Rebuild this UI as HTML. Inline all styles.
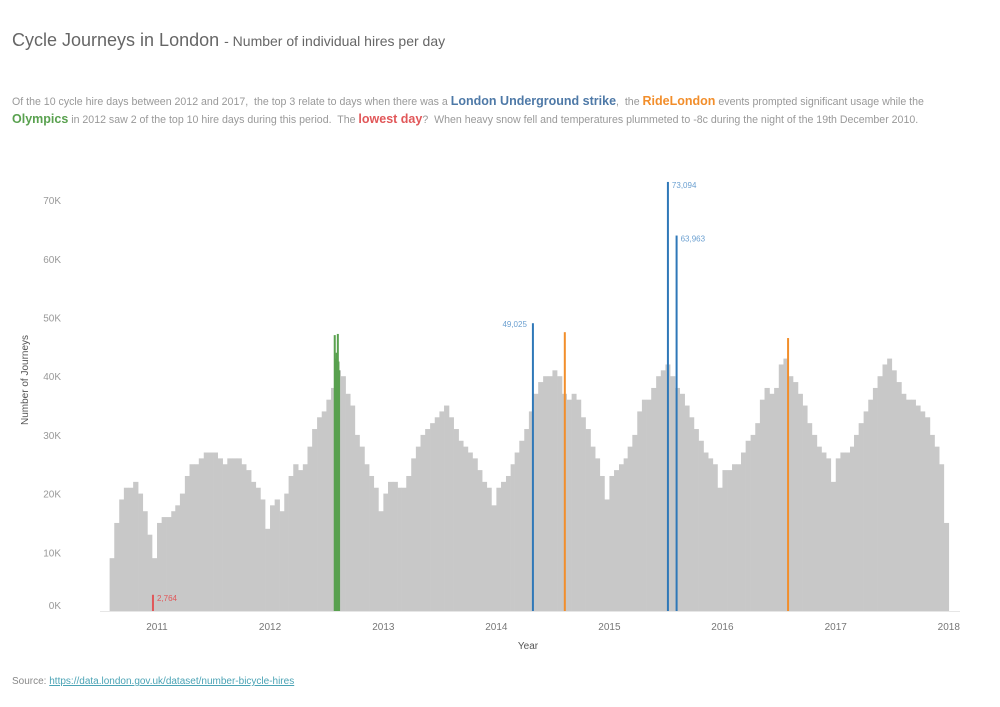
<!DOCTYPE html>
<html><head><meta charset="utf-8">
<style>
body{margin:0;background:#fff;width:1000px;height:707px;overflow:hidden;font-family:"Liberation Sans",sans-serif;position:relative}
.t{position:absolute;white-space:nowrap}
#title{left:12px;top:30px;font-size:18px;color:#666}
#title span{font-size:14px;color:#666}
.desc{left:12px;font-size:10.6px;color:#999}
#d1{top:94px}#d2{top:112px}
.blue{color:#4e79a7;font-size:12.5px;font-weight:bold}
.orange{color:#f28e2b;font-size:12.5px;font-weight:bold}
.green{color:#59a14f;font-size:12.5px;font-weight:bold}
.red{color:#e15759;font-size:12.5px;font-weight:bold}
#src{left:12px;top:676px;font-size:10px;color:#888}
#src a{color:#4aa3b5;text-decoration:underline}
svg{position:absolute;left:0;top:0}
</style></head><body>
<div class="t" id="title">Cycle Journeys in London <span>- Number of individual hires per day</span></div>
<div class="t desc" id="d1">Of the 10 cycle hire days between 2012 and 2017,&nbsp; the top 3 relate to days when there was a <span class="blue">London Underground strike</span>,&nbsp; the <span class="orange">RideLondon</span> events prompted significant usage while the</div>
<div class="t desc" id="d2"><span class="green">Olympics</span> in 2012 saw 2 of the top 10 hire days during this period.&nbsp; The <span class="red">lowest day</span>?&nbsp; When heavy snow fell and temperatures plummeted to -8c during the night of the 19th December 2010.</div>
<svg id="chart" width="1000" height="707"></svg>
<div class="t" id="src">Source: <a>https://data.london.gov.uk/dataset/number-bicycle-hires</a></div>
<script>
// half-monthly journey levels (thousands), starting Aug 2010
const halfMonthValues = [
 9,15,19,21,21,22,20,17,13,9,
 15,16,16,17,18,20,23,25,25,26,27,27,27,26,25,26,26,26,25,24,22,21,19,14,
 18,19,17,20,23,25,24,25,28,31,33,34,36,38,41,40,37,35,30,28,25,23,21,17,
 20,22,22,21,21,23,26,28,30,31,32,33,34,35,33,31,29,28,27,26,24,22,21,18,
 21,22,23,25,27,29,31,34,37,39,40,40,41,40,37,36,37,36,33,31,28,26,23,19,
 23,24,25,26,28,30,34,36,36,38,40,41,42,40,38,37,35,33,31,29,27,26,25,21,
 24,24,25,25,27,29,30,32,36,38,37,38,42,43,40,39,37,35,32,30,28,27,26,22,
 26,27,27,28,30,32,34,36,38,40,42,43,41,39,37,36,36,35,34,33,30,28,25,15
];
const highlightDates = ["2010-12-19","2012-07-28","2012-07-30","2012-08-01","2012-08-03","2012-08-05","2012-08-07","2012-08-09","2012-08-11","2014-04-29","2014-08-10","2015-07-09","2015-08-06","2016-07-31"];
const highlightValues = [2764,47000,43000,42000,44000,43500,47200,42500,41000,49025,47500,73094,63963,46500];
const highlightGroup = ["low","oly","oly","oly","oly","oly","oly","oly","oly","strike","ride","strike","strike","ride"];
const labelled = ["2010-12-19","2014-04-29","2015-07-09","2015-08-06"];
const yTicks = [0,10000,20000,30000,40000,50000,60000,70000];
const yTickLabels = ["0K","10K","20K","30K","40K","50K","60K","70K"];
const xTicks = [2011,2012,2013,2014,2015,2016,2017,2018];

const NS="http://www.w3.org/2000/svg";
const svg=document.getElementById('chart');
const base=611, pxPer10k=58.7;
function y(v){return base - v/10000*pxPer10k;}
const t0=Date.UTC(2011,0,1);
function x(d){return 157 + (d - t0)/86400000/365.25*113.1;}
function mk(tag,a){const e=document.createElementNS(NS,tag);for(const k in a)e.setAttribute(k,a[k]);svg.appendChild(e);return e;}
const colors={low:"#e15759",oly:"#59a14f",strike:"#2f78b8",ride:"#f28e2b"};

halfMonthValues.forEach((v,i)=>{
  const m=7+Math.floor(i/2), half=i%2;
  const yr=2010+Math.floor(m/12), mo=m%12;
  const s=Date.UTC(yr,mo,half?16:1), e=half?Date.UTC(yr,mo+1,1):Date.UTC(yr,mo,16);
  const x1=x(s), x2=x(e);
  const r=mk('rect',{x:x1,y:y(v*1000),width:x2-x1+0.3,height:base-y(v*1000),fill:"#c8c8c8"});
  
  
});
highlightDates.forEach((d,i)=>{
  const [Y,M,D]=d.split('-').map(Number);
  const xx=x(Date.UTC(Y,M-1,D));
  const r=mk('rect',{x:xx-1,y:y(highlightValues[i]),width:2,height:base-y(highlightValues[i]),fill:colors[highlightGroup[i]]});
  
  
  if(labelled.includes(d)){
    const left=d==="2014-04-29";
    const tx=mk('text',{x:left?xx-6:xx+4,y:y(highlightValues[i])+(left?4:6),'font-size':8,fill:highlightGroup[i]==="low"?"#e15759":"#6a9fd0","text-anchor":left?"end":"start"});
    tx.textContent=highlightValues[i].toLocaleString('en-US');
    
    
  }
});
yTicks.forEach((v,i)=>{
  const tx=mk('text',{x:61,y:y(v)+(v===0?-2:4),'font-size':10,fill:"#999","text-anchor":"end"});
  tx.textContent=yTickLabels[i];
  
  
});
const yt=mk('text',{x:28,y:380,'font-size':10,fill:"#555","text-anchor":"middle",transform:"rotate(-90 28 380)"});
yt.textContent="Number of Journeys";


const ax=mk('line',{x1:100,x2:960,y1:base+0.5,y2:base+0.5,stroke:"#e6e6e6"});


xTicks.forEach(yr=>{
  const tx=mk('text',{x:x(Date.UTC(yr,0,1)),y:630,'font-size':10,fill:"#777","text-anchor":"middle"});
  tx.textContent=yr;
  
  
});
const xt=mk('text',{x:528,y:649,'font-size':10,fill:"#555","text-anchor":"middle"});
xt.textContent="Year";


</script>
</body></html>
